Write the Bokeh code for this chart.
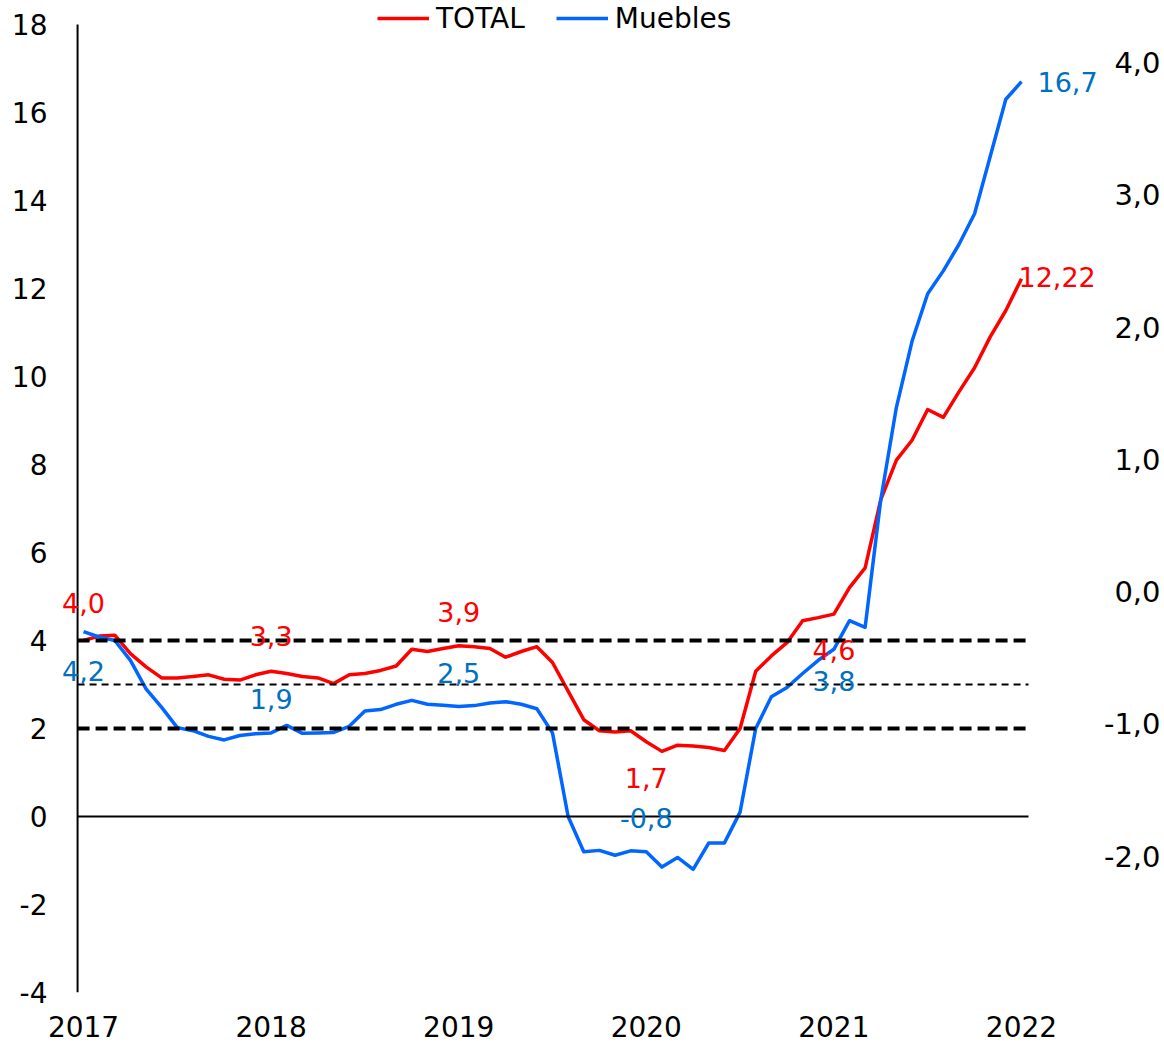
from bokeh.plotting import figure
from bokeh.models import (ColumnDataSource, Range1d, FixedTicker, Legend, LegendItem, LabelSet)
from bokeh.core.properties import value
from bokeh.embed import file_html
from bokeh.resources import INLINE

# ---------------- data ----------------
years = ["2017", "2018", "2019", "2020", "2021", "2022"]

total = [4.0, 4.1, 4.12, 3.7, 3.4, 3.15, 3.15, 3.18, 3.22, 3.12, 3.1, 3.22,
         3.3, 3.25, 3.18, 3.15, 3.02, 3.22, 3.25, 3.32, 3.42, 3.8, 3.75, 3.82,
         3.88, 3.86, 3.82, 3.62, 3.75, 3.86, 3.5, 2.85, 2.2, 1.95, 1.92, 1.95,
         1.7, 1.48, 1.62, 1.6, 1.57, 1.5, 2.0, 3.3, 3.65, 3.95, 4.45, 4.52,
         4.6, 5.2, 5.65, 7.2, 8.1, 8.55, 9.25, 9.07, 9.65, 10.2, 10.9, 11.5,
         12.22]

muebles = [4.2, 4.08, 4.0, 3.55, 2.9, 2.48, 2.02, 1.95, 1.82, 1.74, 1.84, 1.88,
           1.9, 2.07, 1.89, 1.9, 1.91, 2.05, 2.4, 2.43, 2.55, 2.64, 2.55, 2.53,
           2.5, 2.52, 2.58, 2.61, 2.55, 2.45, 1.9, 0.0, -0.8, -0.77, -0.88, -0.78,
           -0.8, -1.15, -0.93, -1.2, -0.6, -0.6, 0.1, 2.0, 2.72, 2.93, 3.25, 3.55,
           3.8, 4.45, 4.3, 7.2, 9.3, 10.8, 11.88, 12.4, 13.0, 13.7, 15.0, 16.3,
           16.7]

left_ticks = list(range(-4, 19, 2))
right_ticks = [-2, -1, 0, 1, 2, 3, 4]
right_tick_labels = ["-2,0", "-1,0", "0,0", "1,0", "2,0", "3,0", "4,0"]
thick_levels = [4, 2]
thin_levels = [3]
label_months = [0, 12, 24, 36, 48]

# ---------------- style / layout ----------------
FONT = "DejaVu Sans"
RED = "#FF0000"
BLUE_LINE = "#0066FF"
BLUE_TXT = "#0070C0"

X_START, X_END = -1.92, 69.15        # month units
Y_START, Y_END = -4.0, 18.545
AXIS_X, LINE_END = -0.38, 60.45      # where the drawn axis / reference lines sit
R_ZERO, R_SCALE = 5.11, 3.007        # right scale: left = R_ZERO + R_SCALE * right

months = list(range(len(total)))
year_ticks = [12 * i for i in range(len(years))]

p = figure(width=1164, height=1045,
           x_range=Range1d(X_START, X_END), y_range=Range1d(Y_START, Y_END),
           output_backend="svg", toolbar_location=None,
           min_border=0, min_border_left=53, min_border_bottom=53)
p.extra_y_ranges = {"right": Range1d((Y_START - R_ZERO) / R_SCALE, (Y_END - R_ZERO) / R_SCALE)}
p.outline_line_color = None
p.grid.visible = False
p.background_fill_color = "white"
p.border_fill_color = "white"

# bottom axis: year labels only
xa = p.xaxis[0]
xa.ticker = FixedTicker(ticks=year_ticks)
xa.major_label_overrides = {t: y for t, y in zip(year_ticks, years)}
xa.axis_line_color = None
xa.major_tick_line_color = None
xa.minor_tick_line_color = None
xa.major_label_text_font = FONT
xa.major_label_text_font_size = "28px"
xa.major_label_text_color = "black"
xa.major_label_standoff = 17

# left axis: labels only, line drawn separately
ya = p.yaxis[0]
ya.ticker = FixedTicker(ticks=left_ticks)
ya.major_label_overrides = {t: str(t) for t in left_ticks}
ya.axis_line_color = None
ya.major_tick_line_color = None
ya.minor_tick_line_color = None
ya.major_label_text_font = FONT
ya.major_label_text_font_size = "28px"
ya.major_label_text_color = "black"
ya.major_label_standoff = 0

# axis line
p.segment(x0=[AXIS_X], y0=[left_ticks[0]], x1=[AXIS_X], y1=[left_ticks[-1]],
          line_color="black", line_width=2)

# series
r_tot = p.line(months, total, line_color=RED, line_width=3.5, line_join="round")
r_mue = p.line(months, muebles, line_color=BLUE_LINE, line_width=3.5, line_join="round")

# reference lines
p.segment(x0=[AXIS_X], y0=[0], x1=[LINE_END], y1=[0], line_color="black", line_width=2)
n = len(thick_levels)
p.segment(x0=[AXIS_X] * n, y0=thick_levels, x1=[LINE_END] * n, y1=thick_levels,
          line_color="black", line_width=4, line_dash="12 6")
n = len(thin_levels)
p.segment(x0=[AXIS_X] * n, y0=thin_levels, x1=[LINE_END] * n, y1=thin_levels,
          line_color="black", line_width=2, line_dash="7 5")

# right scale labels (right-aligned at the canvas edge)
p.text(x=[X_END] * len(right_ticks), y=right_ticks, text=right_tick_labels,
       y_range_name="right", x_offset=-4,
       text_align="right", text_baseline="middle", text_color="black",
       text_font=value(FONT), text_font_size="29px")

legend = Legend(items=[LegendItem(label="TOTAL", renderers=[r_tot]),
                       LegendItem(label="Muebles", renderers=[r_mue])],
                orientation="horizontal", location=(324, 957),
                glyph_width=52, glyph_height=34, label_height=34,
                label_standoff=7, spacing=31, padding=0, margin=0,
                label_text_font=FONT, label_text_font_size="28px",
                label_text_color="black",
                background_fill_alpha=0, border_line_alpha=0)
p.add_layout(legend)


def fmt(v, d=1):
    return f"{v:.{d}f}".replace(".", ",")


# data labels (centered above / below the points)
tot_off = [37, 35, 34, -36, -36]
mue_off = [-39, 34, 33, 34, -32]
lx, ly, lt, lc, lo = [], [], [], [], []
for m, o in zip(label_months, tot_off):
    lx.append(m); ly.append(total[m]); lt.append(fmt(total[m])); lc.append(RED); lo.append(o)
for m, o in zip(label_months, mue_off):
    lx.append(m); ly.append(muebles[m]); lt.append(fmt(muebles[m])); lc.append(BLUE_TXT); lo.append(o)
src_c = ColumnDataSource(dict(x=lx, y=ly, text=lt, color=lc, yo=lo))
p.add_layout(LabelSet(x="x", y="y", text="text", source=src_c, text_color="color",
                      y_offset="yo", text_align="center", text_baseline="middle",
                      text_font=value(FONT), text_font_size="27px"))

# end labels
last = len(total) - 1
src_e = ColumnDataSource(dict(x=[last, last], y=[muebles[last], total[last]],
                              text=[fmt(muebles[last]), fmt(total[last], 2)],
                              color=[BLUE_TXT, RED], xo=[16, -3], yo=[0, 2]))
p.add_layout(LabelSet(x="x", y="y", text="text", source=src_e, text_color="color",
                      x_offset="xo", y_offset="yo", text_align="left", text_baseline="middle",
                      text_font=value(FONT), text_font_size="27px"))

open("out.html", "w").write(file_html(p, INLINE))
